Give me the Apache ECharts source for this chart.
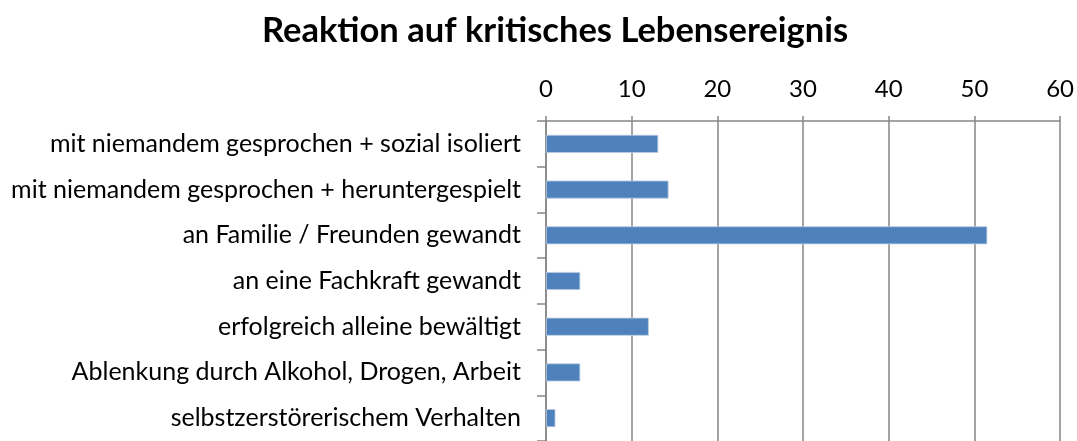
<!DOCTYPE html>
<html><head><meta charset="utf-8">
<script src="https://cdn.jsdelivr.net/npm/echarts@6/dist/echarts.min.js"></script>
<style>html,body{margin:0;padding:0;background:#fff}#c{width:1077px;height:441px}</style>
</head><body><div id="c"></div>
<script>
const categories = [
  "mit niemandem gesprochen + sozial isoliert",
  "mit niemandem gesprochen + heruntergespielt",
  "an Familie / Freunden gewandt",
  "an eine Fachkraft gewandt",
  "erfolgreich alleine bewältigt",
  "Ablenkung durch Alkohol, Drogen, Arbeit",
  "selbstzerstörerischem Verhalten"
];
const values = [13.1, 14.3, 51.5, 4.0, 12.0, 4.0, 1.1];
const xTicks = [0, 10, 20, 30, 40, 50, 60];

const chart = echarts.init(document.getElementById('c'));
const font = 'Lato, "Open Sans", sans-serif';
chart.setOption({
  animation: false,
  title: {
    text: 'Reaktion auf kritisches Lebensereignis',
    left: 550, top: 8, textAlign: 'center',
    textStyle: {fontFamily: font, fontWeight: 'bold', fontSize: 34.5, color: '#000'}
  },
  grid: {left: 546, top: 121, width: 515, height: 326, containLabel: false},
  xAxis: {
    type: 'value', position: 'top', min: xTicks[0], max: xTicks[xTicks.length - 1], interval: 10,
    axisLine: {show: true, lineStyle: {color: '#868686', width: 1.5}},
    axisTick: {show: true, length: 5, lineStyle: {color: '#868686', width: 1.5}},
    splitLine: {show: true, lineStyle: {color: '#868686', width: 1.5}},
    axisLabel: {fontFamily: font, fontSize: 24, color: '#000', margin: 20}
  },
  yAxis: {
    type: 'category', inverse: true, data: categories,
    axisLine: {show: true, lineStyle: {color: '#868686', width: 1.5}},
    axisTick: {show: true, length: 9, lineStyle: {color: '#868686', width: 1.5}},
    axisLabel: {fontFamily: font, fontSize: 25, color: '#000', margin: 25}
  },
  series: [{
    type: 'bar', data: values, barWidth: 18,
    itemStyle: {color: '#4F81BD', borderColor: '#B9CDE5', borderWidth: 0.8}
  }]
});
</script></body></html>
